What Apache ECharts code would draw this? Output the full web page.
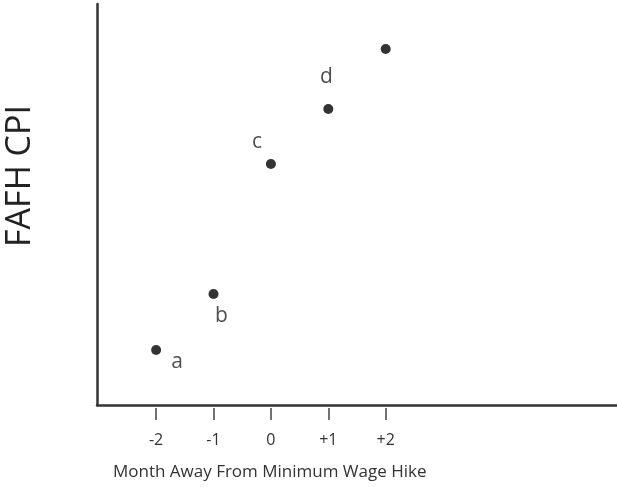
<!DOCTYPE html>
<html>
<head>
<meta charset="utf-8">
<script src="https://cdn.jsdelivr.net/npm/echarts@6/dist/echarts.min.js"></script>
<style>
html,body{margin:0;padding:0;background:#fff;}
#c{width:617px;height:487px;}
</style>
</head>
<body>
<div id="c"></div>
<script>
var months = [-2, -1, 0, 1, 2];
var tickLabels = ['-2', '-1', '0', '+1', '+2'];
var cpiValues = [13.7, 27.7, 60.1, 73.8, 88.8];
var pointNames = ['a', 'b', 'c', 'd', ''];
var labelOffsets = [[21, 12], [8, 22], [-14, -22], [-2, -32], [0, 0]];

var FONT = '"Open Sans", "Noto Sans", sans-serif';
var labelMap = {};
months.forEach(function (m, i) { labelMap[m] = tickLabels[i]; });

var data = months.map(function (m, i) {
  return {
    value: [m, cpiValues[i]],
    name: pointNames[i],
    label: { offset: labelOffsets[i] }
  };
});

var chart = echarts.init(document.getElementById('c'));
chart.setOption({
  animation: false,
  backgroundColor: '#fff',
  grid: { left: 97, right: 0, top: 4, bottom: 82 },
  xAxis: [{
    type: 'value', min: -3.03, max: 6.03,
    axisLine: { show: true, onZero: false, lineStyle: { color: '#333', width: 2.5 } },
    axisTick: { show: false }, axisLabel: { show: false }, splitLine: { show: false }
  }, {
    type: 'value', min: -3.03, max: 6.03, position: 'bottom', offset: 3,
    axisLine: { show: true, onZero: false, lineStyle: { color: 'rgba(0,0,0,0)', width: 0 } },
    axisTick: { show: true, length: 12, customValues: months, lineStyle: { color: '#444', width: 1.5 } },
    axisLabel: {
      show: true, customValues: months, margin: 24, color: '#333',
      fontSize: 16, fontFamily: 'Open Sans',
      formatter: function (v) { return labelMap[v] !== undefined ? labelMap[v] : ''; }
    },
    splitLine: { show: false }
  }],
  yAxis: {
    type: 'value', min: 0, max: 100,
    axisLine: { show: true, onZero: false, lineStyle: { color: '#333', width: 2.5 } },
    axisTick: { show: false }, axisLabel: { show: false }, splitLine: { show: false }
  },
  graphic: [{
    type: 'text', left: 113, top: 464,
    style: { text: 'Month Away From Minimum Wage Hike', fill: '#333', font: '17px ' + FONT }
  }, {
    type: 'text', x: 20, y: 176, rotation: Math.PI / 2,
    style: { text: 'FAFH CPI', fill: '#222', font: '34px ' + FONT, align: 'center', verticalAlign: 'middle' }
  }],
  series: [{
    type: 'scatter', xAxisIndex: 0, symbolSize: 10,
    itemStyle: { color: '#000' },
    label: {
      show: true, position: 'inside', formatter: '{b}',
      color: '#222', fontSize: 21, fontFamily: FONT
    },
    data: data
  }]
});
</script>
</body>
</html>
